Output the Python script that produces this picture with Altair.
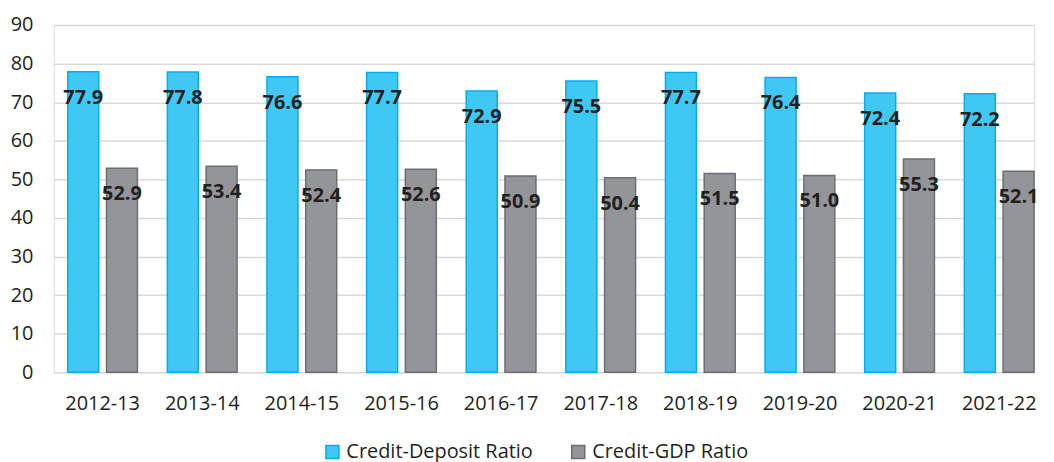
import altair as alt
import pandas as pd

years = ["2012-13", "2013-14", "2014-15", "2015-16", "2016-17",
         "2017-18", "2018-19", "2019-20", "2020-21", "2021-22"]
credit_deposit = [77.9, 77.8, 76.6, 77.7, 72.9, 75.5, 77.7, 76.4, 72.4, 72.2]
credit_gdp = [52.9, 53.4, 52.4, 52.6, 50.9, 50.4, 51.5, 51.0, 55.3, 52.1]
series = ["Credit-Deposit Ratio", "Credit-GDP Ratio"]
y_ticks = list(range(0, 100, 10))

rows = []
for i, y in enumerate(years):
    rows.append({"year": y, "series": series[0], "value": credit_deposit[i]})
    rows.append({"year": y, "series": series[1], "value": credit_gdp[i]})
df = pd.DataFrame(rows)

FONT = "Open Sans"
x = alt.X("year:N", sort=years, title=None,
          scale=alt.Scale(paddingInner=0.3, paddingOuter=0.07, align=1),
          axis=alt.Axis(labelAngle=0, labelFontSize=20, labelColor="#231F20",
                        labelFont=FONT, domain=False, ticks=False, labelPadding=21))
xo = alt.XOffset("series:N", sort=series, scale=alt.Scale(paddingInner=0.2))
y = alt.Y("value:Q", title=None,
          scale=alt.Scale(domain=[0, 90], nice=False),
          axis=alt.Axis(values=y_ticks, labelFontSize=20, labelColor="#231F20",
                        labelFont=FONT, domain=False, ticks=False, labelPadding=21,
                        gridColor="#D9D9D9", gridWidth=1.5))
color = alt.Color("series:N", sort=series, title=None,
                  scale=alt.Scale(domain=series, range=["#40C8F4", "#939598"]),
                  legend=alt.Legend(orient="none", legendX=270, legendY=419,
                                    direction="horizontal", padding=0,
                                    symbolType="square", symbolSize=170,
                                    symbolStrokeWidth=1.5, labelLimit=0,
                                    labelFontSize=20, labelColor="#231F20",
                                    labelFont=FONT, columnPadding=35,
                                    labelOffset=4))
stroke = alt.Stroke("series:N", sort=series, legend=None,
                    scale=alt.Scale(domain=series, range=["#00AEEF", "#6D6E71"]))

bars = alt.Chart(df).mark_bar(strokeWidth=1.5).encode(
    x=x, xOffset=xo, y=y, color=color, stroke=stroke)

labels = alt.Chart(df).mark_text(
    fontSize=20, fontWeight="bold", color="#231F20", font=FONT,
    baseline="middle", dy=26
).encode(x=x, xOffset=xo, y=y, text=alt.Text("value:Q", format=".1f"))

chart = (bars + labels).properties(width=985, height=349).configure_view(
    stroke=None).configure(padding={"top": 6, "left": 2, "right": 7, "bottom": 0})

chart.save("out.html", embed_options={"renderer": "svg", "actions": False})
